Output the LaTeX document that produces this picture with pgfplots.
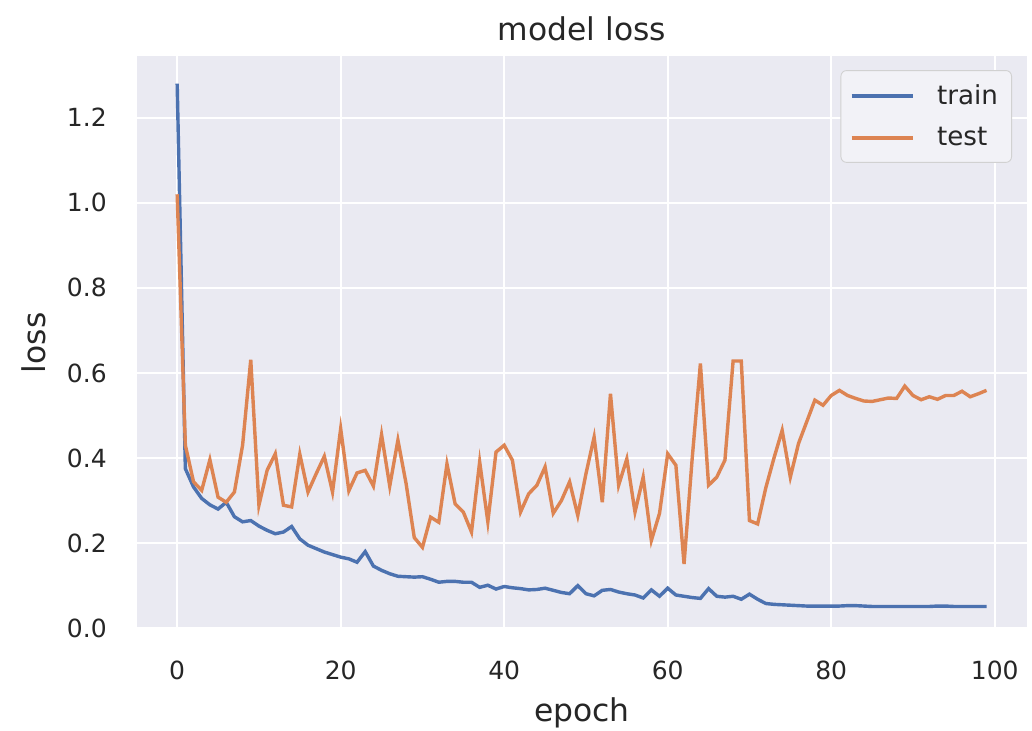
\documentclass[border=0pt]{standalone}
\usepackage{fontspec}
\setmainfont{DejaVu Sans}
\usepackage{pgfplots}
\pgfplotsset{compat=1.18}
\definecolor{sbblue}{HTML}{4C72B0}
\definecolor{sborange}{HTML}{DD8452}
\definecolor{sbbg}{HTML}{EAEAF2}
\definecolor{sbtext}{HTML}{262626}

\pgfplotstableread{
epoch train test
0 1.280 1.020
1 0.375 0.430
2 0.332 0.344
3 0.305 0.324
4 0.290 0.396
5 0.280 0.308
6 0.296 0.296
7 0.262 0.320
8 0.250 0.430
9 0.253 0.631
10 0.240 0.289
11 0.230 0.371
12 0.222 0.410
13 0.226 0.289
14 0.239 0.285
15 0.210 0.409
16 0.195 0.320
17 0.187 0.363
18 0.179 0.404
19 0.173 0.320
20 0.167 0.469
21 0.163 0.323
22 0.155 0.365
23 0.180 0.371
24 0.146 0.334
25 0.136 0.455
26 0.128 0.334
27 0.122 0.442
28 0.121 0.340
29 0.120 0.213
30 0.121 0.190
31 0.115 0.261
32 0.108 0.249
33 0.110 0.386
34 0.110 0.292
35 0.108 0.273
36 0.108 0.226
37 0.096 0.391
38 0.101 0.250
39 0.092 0.414
40 0.098 0.430
41 0.095 0.395
42 0.093 0.273
43 0.090 0.316
44 0.091 0.336
45 0.094 0.379
46 0.089 0.270
47 0.084 0.300
48 0.081 0.344
49 0.100 0.265
50 0.081 0.363
51 0.076 0.449
52 0.089 0.296
53 0.091 0.551
54 0.085 0.336
55 0.081 0.398
56 0.078 0.273
57 0.071 0.355
58 0.090 0.206
59 0.075 0.270
60 0.094 0.410
61 0.078 0.383
62 0.075 0.151
63 0.072 0.400
64 0.070 0.622
65 0.093 0.336
66 0.075 0.355
67 0.073 0.395
68 0.075 0.628
69 0.068 0.628
70 0.080 0.253
71 0.068 0.245
72 0.058 0.330
73 0.056 0.400
74 0.055 0.465
75 0.054 0.355
76 0.053 0.434
77 0.052 0.485
78 0.052 0.536
79 0.052 0.524
80 0.052 0.547
81 0.052 0.559
82 0.053 0.547
83 0.053 0.540
84 0.052 0.534
85 0.051 0.533
86 0.051 0.537
87 0.051 0.541
88 0.051 0.540
89 0.051 0.569
90 0.051 0.547
91 0.051 0.537
92 0.051 0.544
93 0.052 0.538
94 0.052 0.547
95 0.051 0.547
96 0.051 0.557
97 0.051 0.544
98 0.051 0.551
99 0.051 0.559
}\losstable

\begin{document}
\begin{tikzpicture}
\begin{axis}[
  at={(0pt,0pt)}, anchor=south west,
  scale only axis, width=391.7pt, height=252.3pt,
  xmin=-4.95, xmax=103.95, ymin=-0.003, ymax=1.345,
  axis background/.style={fill=sbbg},
  axis line style={draw=none},
  major tick length=0pt,
  grid=major, major grid style={white, line width=1pt},
  xtick={0,20,40,60,80,100},
  ytick={0,0.2,0.4,0.6,0.8,1.0,1.2},
  /pgf/number format/assume math mode=true,
  tick label style={font=\fontsize{11}{13}\selectfont, text=sbtext},
  yticklabel style={/pgf/number format/fixed, /pgf/number format/fixed zerofill,
    /pgf/number format/precision=1, anchor=east, inner sep=0pt, xshift=-13pt},
  xticklabel style={anchor=base, inner sep=0pt, yshift=-22.2pt},
  title={model loss},
  title style={font=\fontsize{13.8}{16}\selectfont, text=sbtext,
    at={(axis description cs:0.5,1)}, anchor=base, yshift=0.8pt},
  xlabel={epoch},
  xlabel style={font=\fontsize{13.8}{16}\selectfont, text=sbtext,
    at={(axis description cs:0.5,0)}, anchor=base, yshift=-40.5pt},
  ylabel={loss},
  ylabel style={font=\fontsize{13.8}{16}\selectfont, text=sbtext,
    at={(axis description cs:-0.103,0.5)}, anchor=base},
  legend style={at={(axis description cs:1,1)}, anchor=north east,
    xshift=-6.6pt, yshift=-6.2pt, draw=black!18, fill=sbbg!60!white,
    rounded corners=2.5pt, font=\fontsize{11.5}{13}\selectfont, text=sbtext,
    inner xsep=4pt, inner ysep=4pt, row sep=4.6pt, column sep=8pt},
  legend image code/.code={\draw[#1, line width=1.5pt] (0pt,0pt) -- (26.8pt,0pt);},
  legend cell align=left,
]
\addplot[sbblue, line width=1.5pt, no markers] table[x=epoch, y=train] {\losstable};
\addlegendentry{train}
\addplot[sborange, line width=1.5pt, no markers] table[x=epoch, y=test] {\losstable};
\addlegendentry{test}
\end{axis}
\pgfresetboundingbox
\path[use as bounding box] (-60.15pt,-44.66pt) rectangle (393.9pt,276.94pt);
\end{tikzpicture}
\end{document}
